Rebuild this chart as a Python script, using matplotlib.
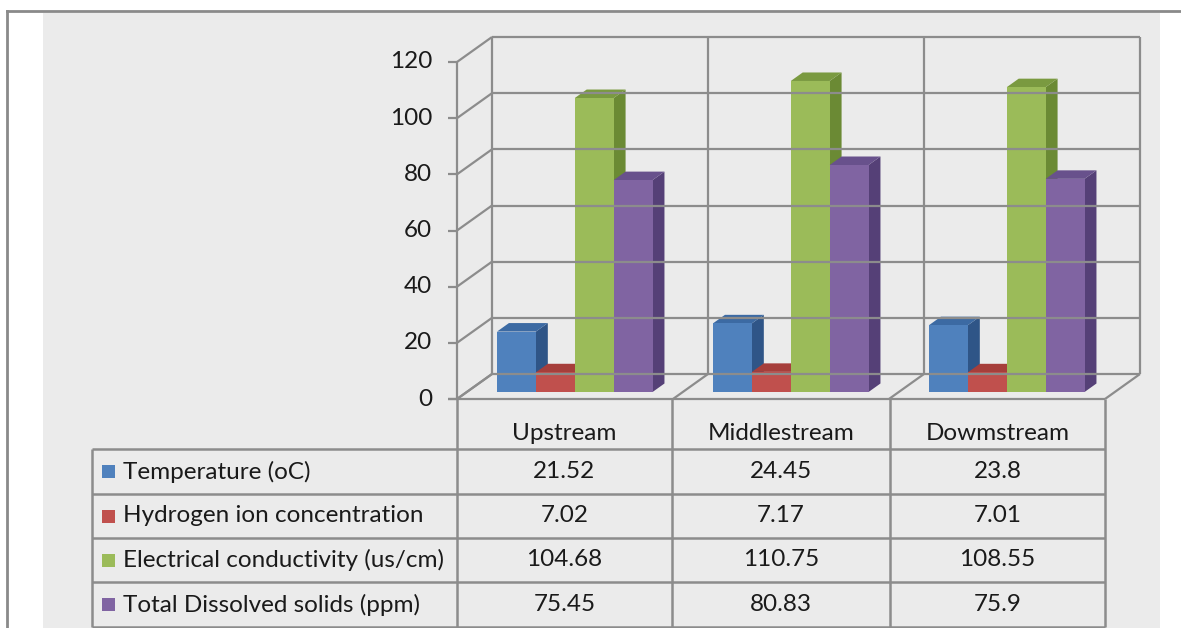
import matplotlib
matplotlib.use("Agg")
import matplotlib.pyplot as plt
from matplotlib.patches import Polygon, Rectangle

categories = ["Upstream", "Middlestream", "Dowmstream"]
series_names = ["Temperature (oC)", "Hydrogen ion concentration",
                "Electrical conductivity (us/cm)", "Total Dissolved solids (ppm)"]
temperature = [21.52, 24.45, 23.8]
hydrogen = [7.02, 7.17, 7.01]
conductivity = [104.68, 110.75, 108.55]
tds = [75.45, 80.83, 75.9]
value_labels = [["21.52", "24.45", "23.8"],
                ["7.02", "7.17", "7.01"],
                ["104.68", "110.75", "108.55"],
                ["75.45", "80.83", "75.9"]]
yticks = [0, 20, 40, 60, 80, 100, 120]

series = [temperature, hydrogen, conductivity, tds]
front_cols = ["#4F81BD", "#C0504D", "#9BBB59", "#8064A2"]
side_cols = ["#2F5587", "#8E3532", "#6B8A34", "#554077"]
top_cols = ["#3C6AA3", "#A63E3B", "#7A9A40", "#68518C"]

W, H = 1181, 628
FONT = "Lato"
FS = 17.5
TXT = "#1A1A1A"
fig = plt.figure(figsize=(W / 100, H / 100), dpi=100)

# background / layout axes in pixel units
bg = fig.add_axes([0, 0, 1, 1], zorder=0)
bg.set_xlim(0, W)
bg.set_ylim(H, 0)
bg.axis("off")
bg.add_patch(Rectangle((43, 13), 1160 - 43, H - 13, facecolor="#EBEBEB", edgecolor="none"))
bg.plot([7, 7], [11, H], color="#8A8A8A", lw=2)
bg.plot([7, W], [11, 11], color="#8A8A8A", lw=2)

# chart axes: front plane, x in category units, y in value units
x0, x1 = 457, 1105
y0, y1 = 399, 62
ax = fig.add_axes([x0 / W, 1 - y0 / H, (x1 - x0) / W, (y0 - y1) / H], zorder=1)
ax.set_xlim(0, 3)
ax.set_ylim(0, 120)
ax.axis("off")

DX = 35 / 216.0
DY = 25 / ((y0 - y1) / 120.0)
gc = "#8C8C8C"
glw = 1.6
kw = dict(color=gc, lw=glw, clip_on=False, solid_capstyle="butt")

ymax = yticks[-1]
# walls and floor
for v in yticks:
    ax.plot([DX, 3 + DX], [v + DY, v + DY], **kw)
    ax.plot([0, DX], [v, v + DY], **kw)
    ax.plot([-0.04, 0], [v, v], **kw)
for i in range(4):
    ax.plot([i + DX, i + DX], [DY, ymax + DY], **kw)
    ax.plot([i, i + DX], [0, DY], **kw)
ax.plot([0, 0], [0, ymax], **kw)
ax.plot([-0.04, 3], [0, 0], **kw)

for v in yticks:
    ax.text(-0.115, v, str(v), ha="right", va="center", fontsize=FS,
            family=FONT, color=TXT, clip_on=False)

# bars
bw = 0.18
gap = (1 - 4 * bw) / 2
d_front = 0.28
d_back = 0.62
for c in range(len(categories)):
    for s in range(len(series)):
        v = series[s][c]
        xl = c + gap + s * bw + d_front * DX
        xr = xl + bw
        yb = d_front * DY
        dd = (d_back - d_front)
        front = Polygon([(xl, yb), (xr, yb), (xr, yb + v), (xl, yb + v)],
                        closed=True, facecolor=front_cols[s], edgecolor="none", clip_on=False)
        top = Polygon([(xl, yb + v), (xr, yb + v), (xr + dd * DX, yb + v + dd * DY),
                       (xl + dd * DX, yb + v + dd * DY)],
                      closed=True, facecolor=top_cols[s], edgecolor="none", clip_on=False)
        side = Polygon([(xr, yb), (xr + dd * DX, yb + dd * DY), (xr + dd * DX, yb + v + dd * DY),
                        (xr, yb + v)],
                       closed=True, facecolor=side_cols[s], edgecolor="none", clip_on=False)
        for p in (side, top, front):
            ax.add_patch(p)

# data table (pixel coords)
tc = "#8C8C8C"
col_x = [457, 672, 890, 1105]
row_y = [449, 494, 538, 582, 627]
tl = dict(color=tc, lw=1.8, solid_capstyle="butt")
for x in col_x:
    bg.plot([x, x], [399, 627], **tl)
bg.plot([92, 92], [449, 627], **tl)
for y in row_y:
    bg.plot([92, 1105], [y, y], **tl)

for c, name in enumerate(categories):
    cx = (col_x[c] + col_x[c + 1]) / 2
    bg.text(cx, 434, name, ha="center", va="center", fontsize=FS, family=FONT, color=TXT)
    for s in range(len(series)):
        cy = (row_y[s] + row_y[s + 1]) / 2
        bg.text(cx, cy, value_labels[s][c], ha="center", va="center", fontsize=FS,
                family=FONT, color=TXT)
for s, name in enumerate(series_names):
    cy = (row_y[s] + row_y[s + 1]) / 2
    bg.add_patch(Rectangle((102, cy - 6.5), 13, 13, facecolor=front_cols[s], edgecolor="none"))
    bg.text(123, cy, name, ha="left", va="center", fontsize=FS, family=FONT, color=TXT)

fig.savefig("out.png", dpi=100)
